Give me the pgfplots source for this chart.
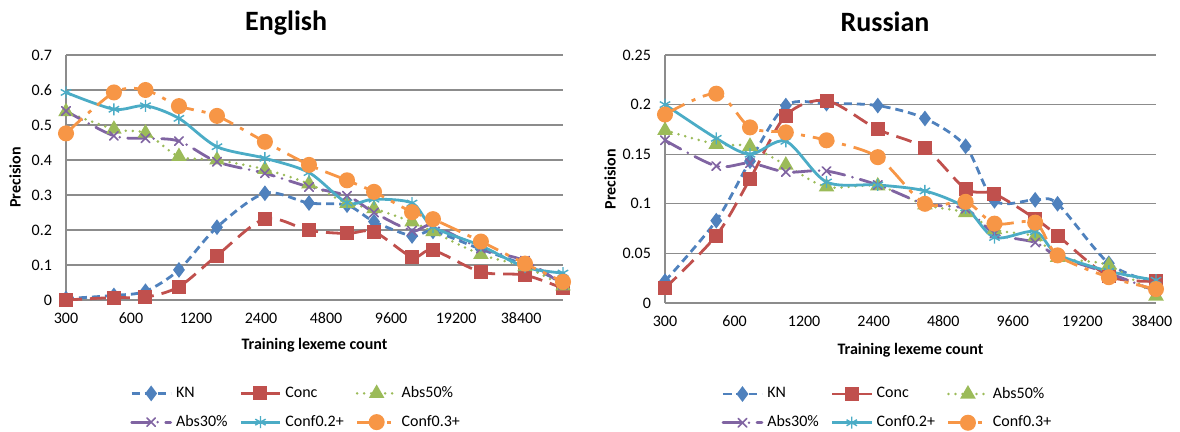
\documentclass[border=0pt]{standalone}
\usepackage{fontspec}
\setmainfont{Carlito}
\usepackage{pgfplots}
\pgfplotsset{compat=1.18}

\definecolor{cKN}{HTML}{4F81BD}
\definecolor{cConc}{HTML}{C0504D}
\definecolor{cAbsF}{HTML}{9BBB59}
\definecolor{cAbsT}{HTML}{8064A2}
\definecolor{cCfA}{HTML}{4BACC6}
\definecolor{cCfB}{HTML}{F79646}
\definecolor{gridgray}{HTML}{8C8C8C}

\pgfplotsset{
  plKN/.style={smooth, tension=0.5, line width=1.4pt, cKN, dash pattern=on 4pt off 2.5pt, mark=diamond*, mark size=2.8pt, mark options={solid, fill=cKN}},
  plConc/.style={smooth, tension=0.5, line width=1.4pt, cConc, dash pattern=on 8pt off 4pt, mark=square*, mark size=2.8pt, mark options={solid, fill=cConc}},
  plAbsF/.style={smooth, tension=0.5, line width=1.4pt, cAbsF, line cap=round, dash pattern=on 0pt off 3.5pt, mark=triangle*, mark size=3.1pt, mark options={solid, fill=cAbsF}},
  plAbsT/.style={smooth, tension=0.5, line width=1.4pt, cAbsT, line cap=round, dash pattern=on 9pt off 4pt on 0pt off 4pt, mark=x, mark size=3pt, mark options={solid, line width=0.8pt}},
  plCfA/.style={smooth, tension=0.5, line width=1.4pt, cCfA, solid, mark=asterisk, mark size=3pt, mark options={solid, line width=0.7pt}},
  plCfB/.style={smooth, tension=0.5, line width=1.4pt, cCfB, dash pattern=on 11pt off 4pt on 2pt off 4pt, mark=*, mark size=3.3pt, mark options={solid, fill=cCfB}},
}

\begin{document}
\begin{tikzpicture}
\useasboundingbox (0,0) rectangle (590pt,216pt);

% ---------------- English ----------------
\begin{axis}[
  scale only axis,
  xmode=log, log basis x=2,
  ymin=0,
  axis x line=bottom, axis y line=left,
  axis line style={draw=gridgray, line width=0.6pt, -},
  major tick length=0pt,
  ymajorgrids, grid style={gridgray, line width=0.6pt},
  clip=false,
  /pgf/number format/assume math mode=true,
  tick label style={font=\fontsize{8}{9}\selectfont},
  xtick={300,600,1200,2400,4800,9600,19200,38400},
  xticklabels={300,600,1200,2400,4800,9600,19200,38400},
  xticklabel style={anchor=center, yshift=-9pt},
  yticklabel style={anchor=east, xshift=-3.5pt},
  xlabel={Training lexeme count},
  ylabel={Precision},
  label style={font=\bfseries\fontsize{8}{9}\selectfont},
  legend columns=3,
  legend cell align=left,
  legend style={draw=none, fill=none, font=\fontsize{8}{9}\selectfont,
    anchor=center, row sep=3.3pt,
    /tikz/every even column/.append style={column sep=4pt}},
  legend image code/.code={\draw[mark repeat=2,mark phase=2] plot coordinates {(0pt,0pt)(9.75pt,0pt)(19.5pt,0pt)};},
  at={(33pt,66pt)}, anchor=south west,
  width=248.5pt, height=122.5pt,
  xmin=300, xmax=60000, ymax=0.7,
  ytick={0,0.1,0.2,0.3,0.4,0.5,0.6,0.7},
  yticklabels={0,0.1,0.2,0.3,0.4,0.5,0.6,0.7},
  title={English},
  title style={font=\bfseries\fontsize{14}{16}\selectfont, at={(axis description cs:0.443,1)}, anchor=center, yshift=10pt},
  xlabel style={at={(axis description cs:0.5,0)}, anchor=center, yshift=-22.5pt},
  ylabel style={at={(axis description cs:0,0.5)}, anchor=center, yshift=25.5pt},
  legend style={at={(axis description cs:0.465,-0.44)}},
]
\addplot[plKN] coordinates {(300,0.004)(500,0.013)(700,0.025)(1000,0.086)(1500,0.208)(2500,0.305)(4000,0.277)(6000,0.271)(8000,0.224)(12000,0.183)(15000,0.196)(25000,0.145)(40000,0.100)(60000,0.050)};
\addlegendentry{KN}
\addplot[plConc] coordinates {(300,0.0)(500,0.007)(700,0.008)(1000,0.038)(1500,0.127)(2500,0.232)(4000,0.199)(6000,0.190)(8000,0.195)(12000,0.123)(15000,0.142)(25000,0.080)(40000,0.071)(60000,0.033)};
\addlegendentry{Conc}
\addplot[plAbsF] coordinates {(300,0.538)(500,0.488)(700,0.477)(1000,0.410)(1500,0.400)(2500,0.373)(4000,0.332)(6000,0.276)(8000,0.261)(12000,0.223)(15000,0.195)(25000,0.130)(40000,0.095)(60000,0.040)};
\addlegendentry{Abs50\%}
\addplot[plAbsT] coordinates {(300,0.540)(500,0.469)(700,0.462)(1000,0.454)(1500,0.395)(2500,0.362)(4000,0.323)(6000,0.298)(8000,0.250)(12000,0.198)(15000,0.213)(25000,0.147)(40000,0.112)(60000,0.043)};
\addlegendentry{Abs30\%}
\addplot[plCfA] coordinates {(300,0.593)(500,0.545)(700,0.555)(1000,0.519)(1500,0.438)(2500,0.405)(4000,0.364)(6000,0.278)(8000,0.288)(12000,0.277)(15000,0.209)(25000,0.155)(40000,0.094)(60000,0.077)};
\addlegendentry{Conf0.2+}
\addplot[plCfB] coordinates {(300,0.476)(500,0.593)(700,0.600)(1000,0.554)(1500,0.526)(2500,0.452)(4000,0.386)(6000,0.342)(8000,0.309)(12000,0.251)(15000,0.231)(25000,0.167)(40000,0.104)(60000,0.052)};
\addlegendentry{Conf0.3+}
\end{axis}

% ---------------- Russian ----------------
\begin{axis}[
  scale only axis,
  xmode=log, log basis x=2,
  ymin=0,
  axis x line=bottom, axis y line=left,
  axis line style={draw=gridgray, line width=0.6pt, -},
  major tick length=0pt,
  ymajorgrids, grid style={gridgray, line width=0.6pt},
  clip=false,
  /pgf/number format/assume math mode=true,
  tick label style={font=\fontsize{8}{9}\selectfont},
  xtick={300,600,1200,2400,4800,9600,19200,38400},
  xticklabels={300,600,1200,2400,4800,9600,19200,38400},
  xticklabel style={anchor=center, yshift=-9pt},
  yticklabel style={anchor=east, xshift=-3.5pt},
  xlabel={Training lexeme count},
  ylabel={Precision},
  label style={font=\bfseries\fontsize{8}{9}\selectfont},
  legend columns=3,
  legend cell align=left,
  legend style={draw=none, fill=none, font=\fontsize{8}{9}\selectfont,
    anchor=center, row sep=3.3pt,
    /tikz/every even column/.append style={column sep=4pt}},
  legend image code/.code={\draw[mark repeat=2,mark phase=2] plot coordinates {(0pt,0pt)(9.75pt,0pt)(19.5pt,0pt)};},
  at={(332.5pt,64.5pt)}, anchor=south west,
  width=245.5pt, height=124pt,
  xmin=300, xmax=40000, ymax=0.25,
  ytick={0,0.05,0.1,0.15,0.2,0.25},
  yticklabels={0,0.05,0.1,0.15,0.2,0.25},
  title={Russian},
  title style={font=\bfseries\fontsize{14}{16}\selectfont, at={(axis description cs:0.448,1)}, anchor=center, yshift=10.5pt},
  xlabel style={at={(axis description cs:0.5,0)}, anchor=center, yshift=-23.5pt},
  ylabel style={at={(axis description cs:0,0.5)}, anchor=center, yshift=27.5pt},
  legend style={at={(axis description cs:0.455,-0.425)}},
]
\addplot[plKN] coordinates {(300,0.022)(500,0.083)(700,0.143)(1000,0.199)(1500,0.201)(2500,0.199)(4000,0.186)(6000,0.158)(8000,0.103)(12000,0.104)(15000,0.100)(25000,0.040)(40000,0.020)};
\addlegendentry{KN}
\addplot[plConc] coordinates {(300,0.015)(500,0.068)(700,0.125)(1000,0.189)(1500,0.204)(2500,0.175)(4000,0.156)(6000,0.115)(8000,0.110)(12000,0.085)(15000,0.068)(25000,0.027)(40000,0.022)};
\addlegendentry{Conc}
\addplot[plAbsF] coordinates {(300,0.174)(500,0.160)(700,0.158)(1000,0.139)(1500,0.117)(2500,0.118)(4000,0.099)(6000,0.091)(8000,0.074)(12000,0.067)(15000,0.046)(25000,0.038)(40000,0.007)};
\addlegendentry{Abs50\%}
\addplot[plAbsT] coordinates {(300,0.164)(500,0.138)(700,0.141)(1000,0.132)(1500,0.133)(2500,0.119)(4000,0.100)(6000,0.095)(8000,0.070)(12000,0.061)(15000,0.047)(25000,0.030)(40000,0.012)};
\addlegendentry{Abs30\%}
\addplot[plCfA] coordinates {(300,0.200)(500,0.166)(700,0.150)(1000,0.163)(1500,0.122)(2500,0.119)(4000,0.113)(6000,0.096)(8000,0.066)(12000,0.072)(15000,0.049)(25000,0.032)(40000,0.023)};
\addlegendentry{Conf0.2+}
\addplot[plCfB] coordinates {(300,0.190)(500,0.211)(700,0.177)(1000,0.172)(1500,0.164)(2500,0.147)(4000,0.100)(6000,0.102)(8000,0.080)(12000,0.081)(15000,0.048)(25000,0.026)(40000,0.014)};
\addlegendentry{Conf0.3+}
\end{axis}
\end{tikzpicture}
\end{document}
